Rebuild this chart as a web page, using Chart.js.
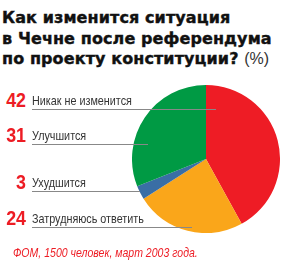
<!DOCTYPE html>
<html><head><meta charset="utf-8">
<script src="https://cdn.jsdelivr.net/npm/chart.js@4"></script>
<style>
html,body{margin:0;padding:0;background:#fff;}
#wrap{position:relative;width:286px;height:262px;overflow:hidden;}
#title{position:absolute;left:2px;top:8px;font-family:"DejaVu Sans";font-weight:bold;font-size:16px;line-height:20.5px;color:#111;letter-spacing:0.1px;white-space:nowrap;-webkit-text-stroke:0.4px #111;}
#title span{font-weight:normal;font-family:"Liberation Sans";color:#333;letter-spacing:0;-webkit-text-stroke:0;}
#pie{position:absolute;left:132px;top:85px;width:148px;height:148px;}
.num{position:absolute;width:26px;text-align:right;font-family:"Liberation Sans";font-weight:bold;font-size:21px;color:#ed1c24;line-height:1;transform:scaleX(0.85);transform-origin:right top;}
.lab{position:absolute;left:32px;font-family:"Liberation Sans";font-size:13px;color:#333;line-height:1;white-space:nowrap;transform:scaleX(0.83);transform-origin:left top;}
.ln{position:absolute;left:32px;height:1px;background:#888;}
#foot{position:absolute;left:13px;top:245px;font-family:"Liberation Sans";font-style:italic;font-size:13px;color:#ed1c24;white-space:nowrap;transform:scaleX(0.81);transform-origin:left top;}
</style></head>
<body><div id="wrap">
<div id="title">Как изменится ситуация<br>в Чечне после референдума<br>по проекту конституции? <span>(%)</span></div>
<div id="pie"><canvas id="c"></canvas></div>
<div id="labels"></div>
<div id="foot">ФОМ, 1500 человек, март 2003 года.</div>
</div>
<script>
const categories = ["Никак не изменится", "Затрудняюсь ответить", "Ухудшится", "Улучшится"];
const values = [42, 24, 3, 31];
const colors = ["#ee1c25", "#faa61a", "#3a6ea5", "#009a44"];
const legendOrder = [0, 3, 2, 1];

const chart = new Chart(document.getElementById('c'), {
  type: 'pie',
  data: { labels: categories, datasets: [{ data: values, backgroundColor: colors, borderWidth: 0 }] },
  options: {
    responsive: true, maintainAspectRatio: false, animation: false,
    layout: { padding: 0 },
    plugins: { legend: { display: false }, tooltip: { enabled: false } }
  }
});

const rowTops = [92, 127, 174, 210];
const lineEnds = [216, 148, 140, 192];
const labels = document.getElementById('labels');
legendOrder.forEach((idx, i) => {
  const t = rowTops[i];
  const n = document.createElement('div'); n.className = 'num';
  n.style.left = '0px'; n.style.top = (t - 3) + 'px'; n.textContent = values[idx];
  const l = document.createElement('div'); l.className = 'lab';
  l.style.top = (t + 2) + 'px'; l.textContent = categories[idx];
  const ln = document.createElement('div'); ln.className = 'ln';
  ln.style.top = (t + 17) + 'px'; ln.style.width = (lineEnds[i] - 32) + 'px';
  labels.appendChild(n); labels.appendChild(l); labels.appendChild(ln);
});
</script>
</body></html>
